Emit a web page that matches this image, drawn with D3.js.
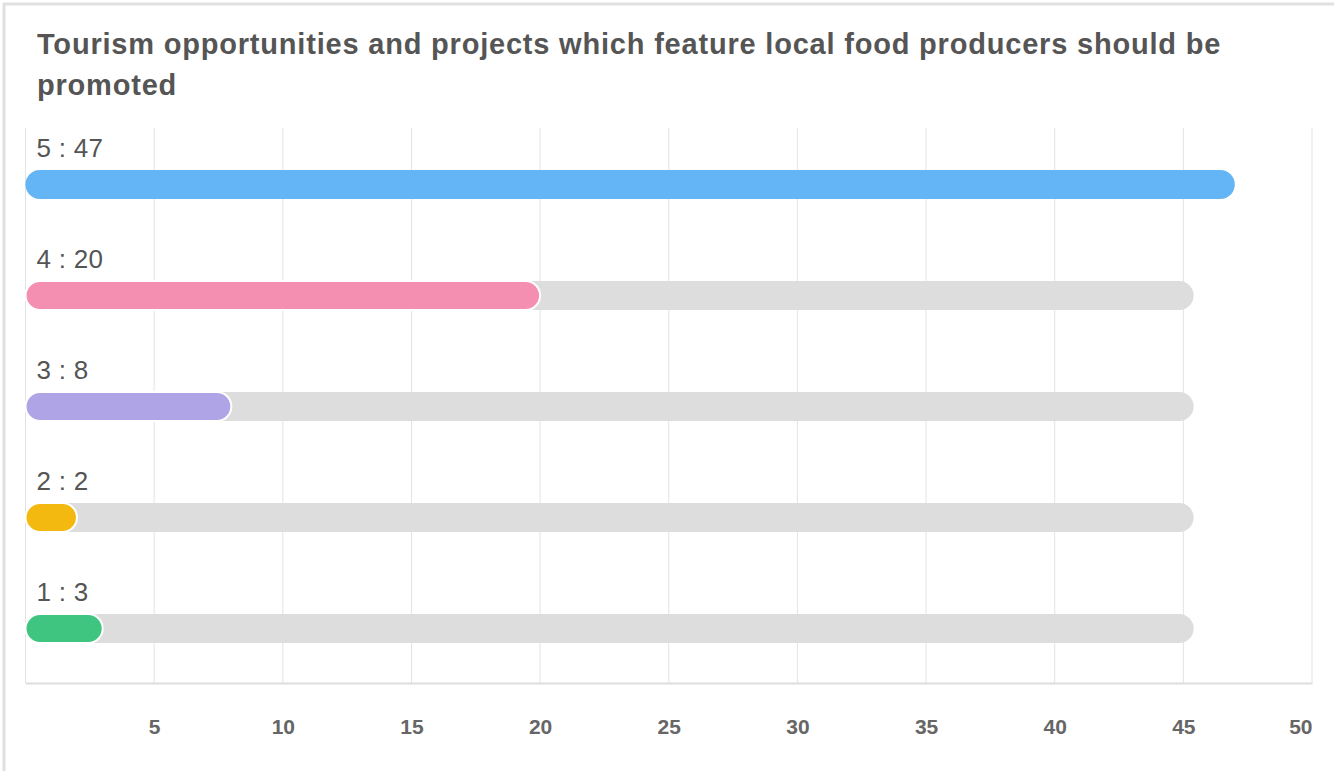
<!DOCTYPE html>
<html>
<head>
<meta charset="utf-8">
<script src="https://cdn.jsdelivr.net/npm/d3@7"></script>
<style>
  html, body { margin: 0; padding: 0; background: #fff; }
</style>
</head>
<body>
<svg width="1334" height="771"></svg>
<script>
// data
const titleLines = ["Tourism opportunities and projects which feature local food producers should be", "promoted"];
const categories = ["5", "4", "3", "2", "1"];
const values = [47, 20, 8, 2, 3];
const colors = ["#64b5f6", "#f48fb1", "#afa5e6", "#f4b911", "#40c581"];
const xTicks = [5, 10, 15, 20, 25, 30, 35, 40, 45, 50];
const trackValue = 45.4;

const font = "Liberation Sans";
const svg = d3.select("svg").attr("font-family", font);
const margin = { top: 128, right: 22, bottom: 88, left: 25.5 };
const width = +svg.attr("width") - margin.left - margin.right;
const height = +svg.attr("height") - margin.top - margin.bottom;

// frame
svg.append("path")
  .attr("d", "M4,771 V4 H1334")
  .attr("fill", "none")
  .attr("stroke", "#e0e0e0")
  .attr("stroke-width", 3);

// title
svg.append("g").selectAll("text")
  .data(titleLines)
  .enter()
  .append("text")
  .attr("x", 37)
  .attr("y", (d, i) => 54 + i * 41)
  .attr("fill", "#555")
  .style("font-family", font)
  .style("font-size", "29px")
  .style("font-weight", "bold")
  .style("letter-spacing", "0.8px")
  .text(d => d);

const g = svg.append("g").attr("transform", `translate(${margin.left},${margin.top})`);

const x = d3.scaleLinear().domain([0, 50]).range([0, width]);
const y = d3.scaleBand().domain(categories).range([0, height]);

// grid
g.selectAll(".grid")
  .data(xTicks)
  .enter()
  .append("line")
  .attr("x1", d => x(d))
  .attr("x2", d => x(d))
  .attr("y1", 0)
  .attr("y2", height)
  .attr("stroke", "#e3e3e3");

g.append("line")
  .attr("x1", 0).attr("x2", 0)
  .attr("y1", 0).attr("y2", height)
  .attr("stroke", "#e3e3e3");

// x axis
const xAxis = g.append("g")
  .attr("transform", `translate(0,${height})`)
  .call(d3.axisBottom(x).tickValues(xTicks).tickSize(0).tickPadding(36));
xAxis.select(".domain").attr("stroke", "#dedede").attr("stroke-width", 2);
xAxis.selectAll("text")
  .attr("fill", "#666")
  .attr("text-anchor", d => d === d3.max(xTicks) ? "end" : "middle")
  .style("font-size", "21px")
  .style("font-weight", "bold")
  .style("font-family", font);

const barH = 29;
const rows = g.selectAll(".row")
  .data(categories.map((c, i) => ({ c, v: values[i], color: colors[i] })))
  .enter()
  .append("g")
  .attr("class", "row")
  .attr("transform", d => `translate(0,${y(d.c)})`);

rows.append("text")
  .attr("x", 11)
  .attr("y", 29)
  .attr("fill", "#555")
  .style("font-family", font)
  .style("font-size", "26px")
  .style("letter-spacing", "0.3px")
  .text(d => `${d.c} : ${d.v}`);

rows.append("rect")
  .attr("x", 0)
  .attr("y", 42)
  .attr("width", x(trackValue))
  .attr("height", barH)
  .attr("rx", barH / 2)
  .attr("fill", "#dddddd");

rows.append("rect")
  .attr("x", 0)
  .attr("y", 42)
  .attr("width", d => x(d.v))
  .attr("height", barH)
  .attr("rx", barH / 2)
  .attr("fill", d => d.color)
  .attr("stroke", d => d.v === d3.max(values) ? "none" : "#fff")
  .attr("stroke-width", 2);
</script>
</body>
</html>
